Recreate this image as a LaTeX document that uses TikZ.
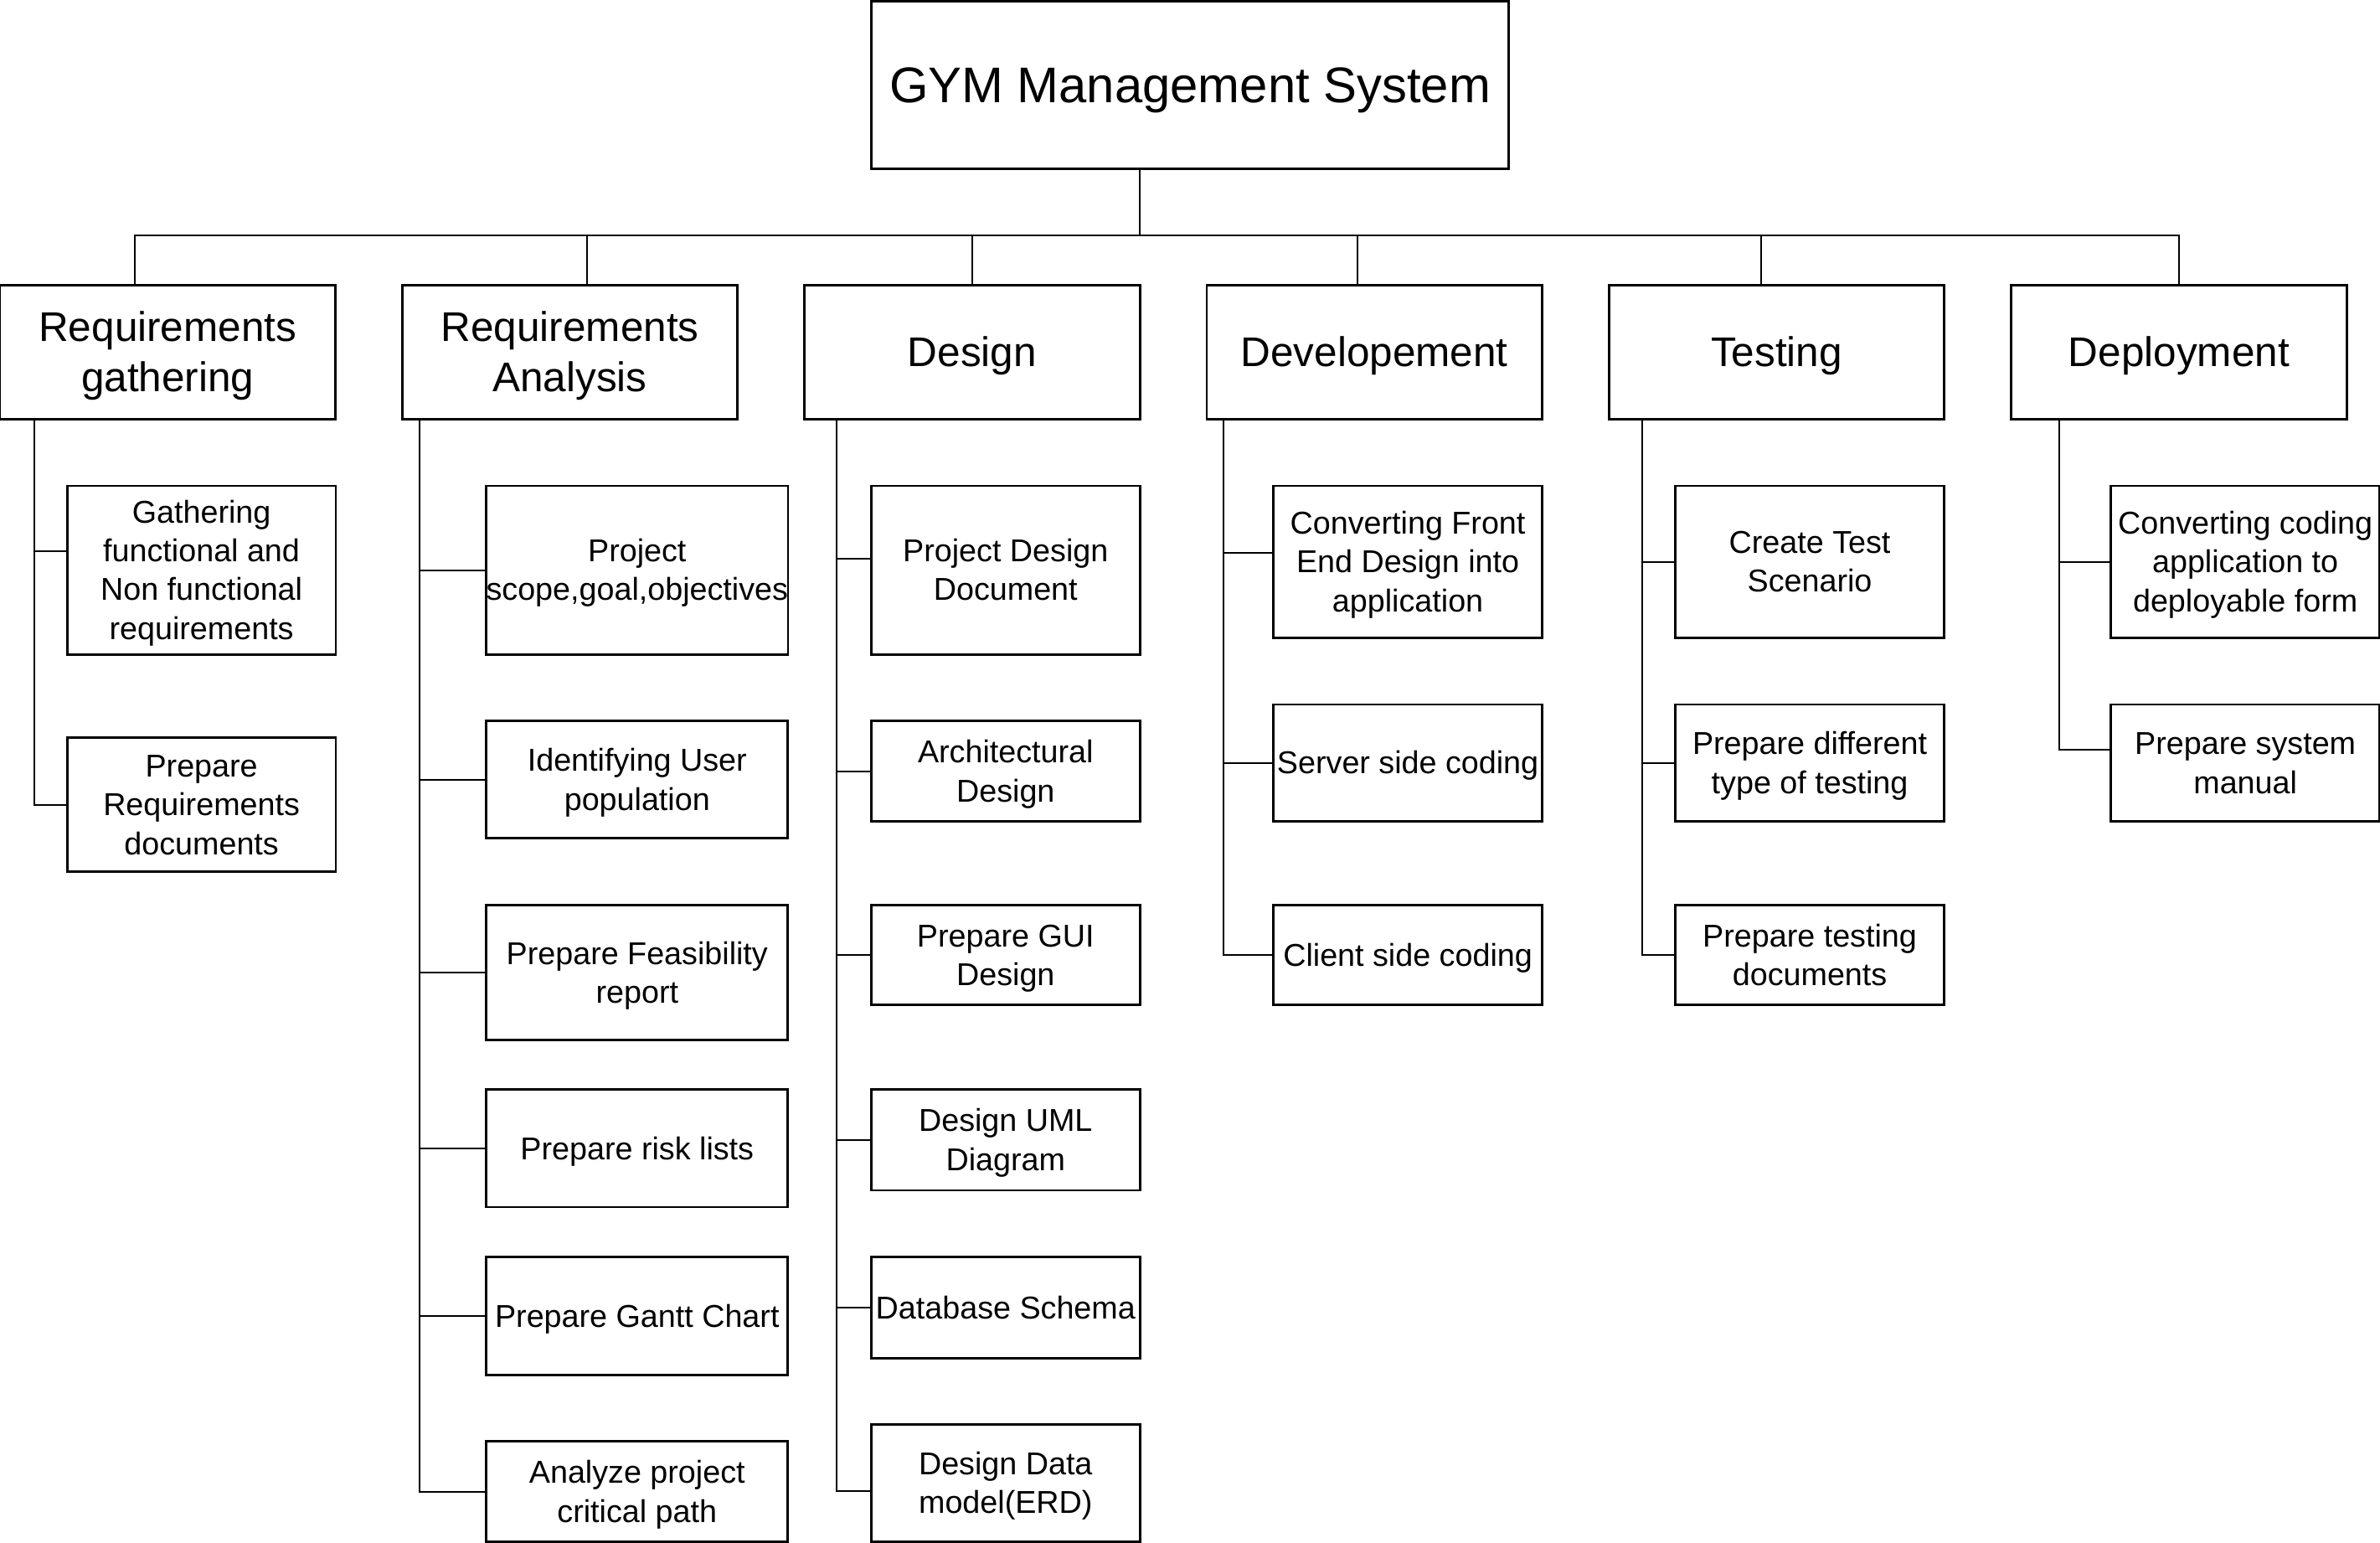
\documentclass[tikz,border=0pt]{standalone}
\usepackage{fontspec}
\setmainfont{Liberation Sans}
\usepackage{tikz}
\newcommand{\tstr}{\rule{0pt}{0.95em}}
\newcommand{\bstr}{\rule[-0.25em]{0pt}{0pt}}

\begin{document}
\begin{tikzpicture}[x=1pt,y=-1pt,
	box/.style={draw,line width=1.6pt,align=center,inner sep=0pt,outer sep=0pt},
	root/.style={box,minimum width=420pt,minimum height=110pt,font=\fontsize{33}{40}\selectfont},
	phase/.style={box,minimum width=221pt,minimum height=88pt,font=\fontsize{27.3}{33}\selectfont},
	task/.style={box,minimum width=177pt,font=\fontsize{20.8}{25.5}\selectfont},
	widetask/.style={task,minimum width=198.5pt},
	link/.style={line width=1.1pt}]
	\path[use as bounding box,fill=white] (0,0) rectangle (1568,1016);
	\node[root] at (784,56) (root) {\tstr GYM Management System\bstr};
	% phases
	\node[phase] at (110.5,232) (p1) {\tstr Requirements\\gathering\bstr};
	\node[phase] at (375.5,232) (p2) {\tstr Requirements\\Analysis\bstr};
	\node[phase] at (640.5,232) (p3) {\tstr Design\bstr};
	\node[phase] at (905.5,232) (p4) {\tstr Developement\bstr};
	\node[phase] at (1170.5,232) (p5) {\tstr Testing\bstr};
	\node[phase] at (1435.5,232) (p6) {\tstr Deployment\bstr};
	% requirements gathering
	\node[task,minimum height=111pt] at (132.75,375.5) (p1a) {\tstr Gathering\\functional and\\Non functional\\requirements\bstr};
	\node[task,minimum height=88pt] at (132.75,530) (p1b) {\tstr Prepare\\Requirements\\documents\bstr};
	% requirements analysis
	\node[widetask,minimum height=111pt] at (419.75,375.5) (p2a) {\tstr Project\\scope,goal,objectives\bstr};
	\node[widetask,minimum height=77pt] at (419.75,513.5) (p2b) {\tstr Identifying User\\population\bstr};
	\node[widetask,minimum height=88.5pt] at (419.75,640.5) (p2c) {\tstr Prepare Feasibility\\report\bstr};
	\node[widetask,minimum height=77.4pt] at (419.75,756.3) (p2d) {\tstr Prepare risk lists\bstr};
	\node[widetask,minimum height=77.4pt] at (419.75,866.7) (p2e) {\tstr Prepare Gantt Chart\bstr};
	\node[widetask,minimum height=66.2pt] at (419.75,982.5) (p2f) {\tstr Analyze project\\critical path\bstr};
	% design
	\node[task,minimum height=111pt] at (662.5,375.5) (p3a) {\tstr Project Design\\Document\bstr};
	\node[task,minimum height=66pt] at (662.5,508) (p3b) {\tstr Architectural\\Design\bstr};
	\node[task,minimum height=66pt] at (662.5,629) (p3c) {\tstr Prepare GUI\\Design\bstr};
	\node[task,minimum height=66.4pt] at (662.5,750.8) (p3d) {\tstr Design UML\\Diagram\bstr};
	\node[task,minimum height=66.4pt] at (662.5,861.2) (p3e) {\tstr Database Schema\bstr};
	\node[task,minimum height=77.6pt] at (662.5,976.8) (p3f) {\tstr Design Data\\model(ERD)\bstr};
	% development
	\node[task,minimum height=100pt] at (927.5,370) (p4a) {\tstr Converting Front\\End Design into\\application\bstr};
	\node[task,minimum height=77pt] at (927.5,502.5) (p4b) {\tstr Server side coding\bstr};
	\node[task,minimum height=66pt] at (927.5,629) (p4c) {\tstr Client side coding\bstr};
	% testing
	\node[task,minimum height=100pt] at (1192.3,370) (p5a) {\tstr Create Test\\Scenario\bstr};
	\node[task,minimum height=77pt] at (1192.3,502.5) (p5b) {\tstr Prepare different\\type of testing\bstr};
	\node[task,minimum height=66pt] at (1192.3,629) (p5c) {\tstr Prepare testing\\documents\bstr};
	% deployment
	\node[task,minimum height=100pt] at (1479.25,370) (p6a) {\tstr Converting coding\\application to\\deployable form\bstr};
	\node[task,minimum height=77pt] at (1479.25,502.5) (p6b) {\tstr Prepare system\\manual\bstr};
	% connectors
	\coordinate (bus) at (751,155);
	\draw[link] ([xshift=-33pt]root.south) -- (bus);
	\foreach \p/\dx in {p1/-21.5,p2/11.5,p3/0,p4/-11,p5/-10.5,p6/0}
		\draw[link] ([xshift=\dx pt]\p.north) |- (bus);
	\foreach \t/\dy in {p1a/12.5,p1b/0}
		\draw[link] ([xshift=22.4pt]p1.south west) |- ([yshift=\dy pt]\t.west);
	\foreach \t in {p2a,p2b,p2c,p2d,p2e,p2f}
		\draw[link] ([xshift=11.4pt]p2.south west) |- (\t.west);
	\foreach \t/\dy in {p3a/7.5,p3b/0,p3c/0,p3d/0,p3e/0,p3f/-5.2}
		\draw[link] ([xshift=21.3pt]p3.south west) |- ([yshift=\dy pt]\t.west);
	\foreach \t/\dy in {p4a/6,p4b/0,p4c/0}
		\draw[link] ([xshift=11pt]p4.south west) |- ([yshift=\dy pt]\t.west);
	\foreach \t in {p5a,p5b,p5c}
		\draw[link] ([xshift=21.7pt]p5.south west) |- (\t.west);
	\foreach \t/\dy in {p6a/0,p6b/8.5}
		\draw[link] ([xshift=31.5pt]p6.south west) |- ([yshift=\dy pt]\t.west);
\end{tikzpicture}
\end{document}
